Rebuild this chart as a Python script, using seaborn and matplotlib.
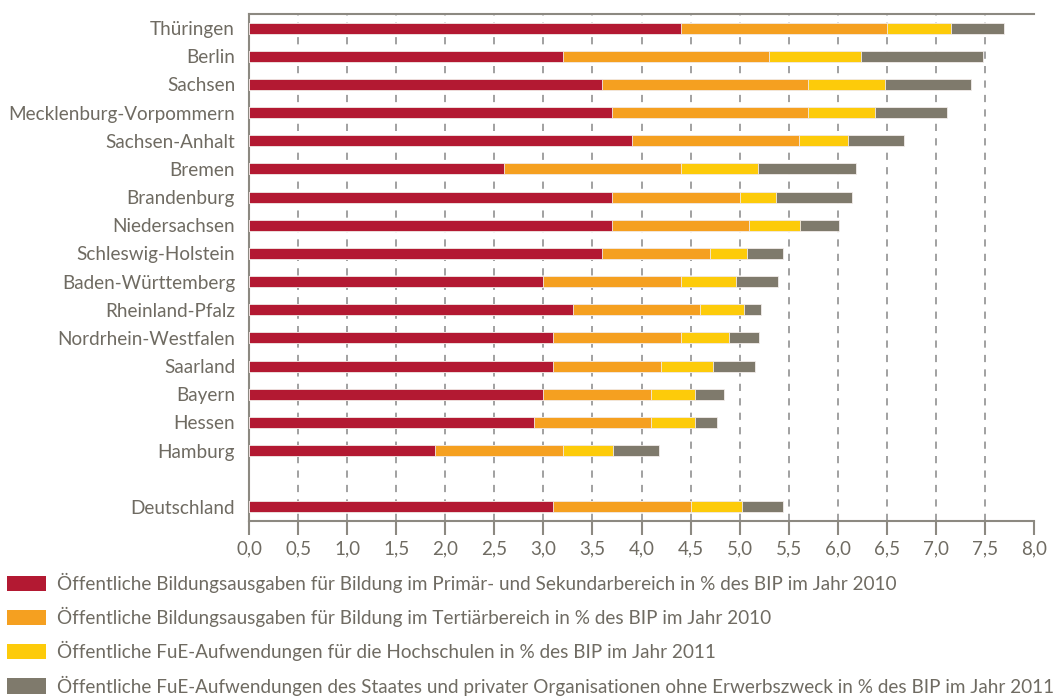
#!/usr/bin/env python3
import matplotlib
matplotlib.use("Agg")
import matplotlib.pyplot as plt
import numpy as np
import pandas as pd
import seaborn as sns

from matplotlib.patches import Patch
from matplotlib.ticker import FuncFormatter

states = [
    "Thüringen", "Berlin", "Sachsen", "Mecklenburg-Vorpommern", "Sachsen-Anhalt",
    "Bremen", "Brandenburg", "Niedersachsen", "Schleswig-Holstein", "Baden-Württemberg",
    "Rheinland-Pfalz", "Nordrhein-Westfalen", "Saarland", "Bayern", "Hessen", "Hamburg",
    "Deutschland",
]
# % des BIP
bildung_primar = [4.4, 3.2, 3.6, 3.7, 3.9, 2.6, 3.7, 3.7, 3.6, 3.0, 3.3, 3.1, 3.1, 3.0, 2.9, 1.9, 3.1]
bildung_tertiar = [2.1, 2.1, 2.1, 2.0, 1.7, 1.8, 1.3, 1.4, 1.1, 1.4, 1.3, 1.3, 1.1, 1.1, 1.2, 1.3, 1.4]
fue_hochschulen = [0.65, 0.94, 0.78, 0.68, 0.50, 0.79, 0.37, 0.51, 0.38, 0.56, 0.44, 0.49, 0.53, 0.45, 0.44, 0.51, 0.52]
fue_staat = [0.54, 1.24, 0.88, 0.73, 0.57, 1.00, 0.77, 0.40, 0.36, 0.43, 0.18, 0.31, 0.43, 0.29, 0.23, 0.47, 0.42]

series_labels = [
    "Öffentliche Bildungsausgaben für Bildung im Primär- und Sekundarbereich in % des BIP im Jahr 2010",
    "Öffentliche Bildungsausgaben für Bildung im Tertiärbereich in % des BIP im Jahr 2010",
    "Öffentliche FuE-Aufwendungen für die Hochschulen in % des BIP im Jahr 2011",
    "Öffentliche FuE-Aufwendungen des Staates und privater Organisationen ohne Erwerbszweck in % des BIP im Jahr 2011",
]
colors = ["#b31932", "#f5a020", "#fdcb0a", "#7f7a6c"]
TEXT = "#6f6b62"
AXIS = "#8c8981"

df = pd.DataFrame({
    "state": states,
    "s1": bildung_primar,
    "s2": bildung_tertiar,
    "s3": fue_hochschulen,
    "s4": fue_staat,
})
# cumulative ends for overlapping "stacked" bars
cum = df[["s1", "s2", "s3", "s4"]].cumsum(axis=1)
df[["c1", "c2", "c3", "c4"]] = cum.values

# empty slot between Hamburg and Deutschland
order = states[:-1] + [" "] + states[-1:]

sns.set_style("white")
plt.rcParams["font.family"] = ["Lato", "DejaVu Sans"]

fig = plt.figure(figsize=(10.56, 6.98), dpi=100)
ax = fig.add_axes([0.2358, 0.2536, 0.7434, 0.7264])

for col, c in zip(["c4", "c3", "c2", "c1"], colors[::-1]):
    sns.barplot(data=df, y="state", x=col, order=order, color=c, saturation=1,
                width=0.39, edgecolor="#f2ecea", linewidth=0.6, ax=ax, zorder=3)

ax.set_xlim(0, 8)
ax.set_ylim(len(order) - 0.5, -0.5)
ax.set_xticks(np.arange(0, 8.01, 0.5))
ax.xaxis.set_major_formatter(FuncFormatter(lambda v, p: f"{v:.1f}".replace(".", ",")))
ax.set_xlabel("")
ax.set_ylabel("")

for v in np.arange(0.5, 7.6, 0.5):
    ax.axvline(v, color="#9a9a9a", lw=1.3, ls=(0, (4, 4)), zorder=1)

for s in ["top", "left", "bottom"]:
    ax.spines[s].set_visible(True)
    ax.spines[s].set_color(AXIS)
    ax.spines[s].set_linewidth(1.5)
ax.spines["right"].set_visible(False)

ax.tick_params(axis="x", direction="out", length=10, width=1.5, color=AXIS,
               labelsize=13.5, labelcolor=TEXT, pad=4, bottom=True)
ax.tick_params(axis="y", length=0, labelsize=13.6, labelcolor=TEXT, pad=10)

handles = [Patch(facecolor=c, edgecolor="none") for c in colors]
fig.legend(handles, series_labels, loc="upper left", bbox_to_anchor=(0.007, 0.179),
           frameon=False, fontsize=13.6, labelcolor=TEXT, handlelength=2.05,
           handleheight=0.85, handletextpad=0.6, labelspacing=0.74, borderaxespad=0,
           borderpad=0)

fig.savefig("out.png", dpi=100)
